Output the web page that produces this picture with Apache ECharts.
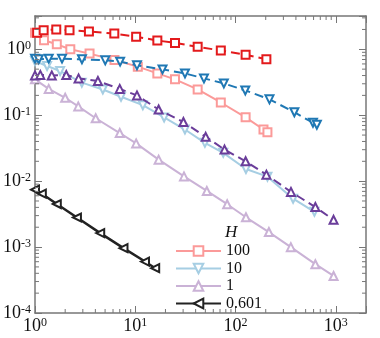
<!DOCTYPE html>
<html>
<head>
<meta charset="utf-8">
<script src="https://cdn.jsdelivr.net/npm/echarts@6/dist/echarts.min.js"></script>
<style>
  html, body { margin: 0; padding: 0; background: #fff; }
  #chart { width: 380px; height: 338px; }
</style>
</head>
<body>
<div id="chart"></div>
<script>
// H = 100, dashed (dark) and solid (light)
const h100DashX = [1.05, 1.22, 1.63, 2.21, 3.45, 6.18, 10.2, 16.6, 24.9, 41.9, 71.3, 126, 203]
const h100DashY = [1.78, 1.95, 1.99, 1.95, 1.86, 1.73, 1.55, 1.36, 1.25, 1.09, 0.96, 0.825, 0.705]
const h100X = [1.0, 1.23, 1.65, 2.25, 3.5, 6.2, 10.6, 16.6, 24.9, 41.9, 71.3, 126, 190, 208]
const h100Y = [1.78, 1.37, 1.19, 1.0, 0.86, 0.69, 0.546, 0.431, 0.35, 0.246, 0.156, 0.093, 0.0607, 0.0552]

// H = 10
const h10DashX = [1.0, 1.09, 1.37, 1.86, 2.94, 5.02, 7.06, 10.4, 18.7, 31.3, 48.4, 76.4, 125, 218, 386, 592, 647]
const h10DashY = [0.722, 0.705, 0.722, 0.722, 0.705, 0.68, 0.65, 0.571, 0.496, 0.431, 0.362, 0.304, 0.238, 0.174, 0.111, 0.0768, 0.0716]
const h10X = [1.0, 1.32, 1.78, 2.93, 4.75, 7.21, 11.9, 19.4, 31.3, 49.5, 75.4, 127, 208, 375, 612]
const h10Y = [0.664, 0.557, 0.468, 0.312, 0.246, 0.191, 0.142, 0.0924, 0.0607, 0.0381, 0.0269, 0.0153, 0.0117, 0.00542, 0.00343]

// H = 1
const h1DashX = [1.0, 1.13, 1.47, 2.05, 2.72, 4.24, 7.0, 10.4, 17.1, 30.2, 50.4, 77.7, 126, 203, 357, 625, 950]
const h1DashY = [0.402, 0.409, 0.402, 0.407, 0.362, 0.33, 0.251, 0.2, 0.122, 0.0789, 0.047, 0.0301, 0.02, 0.01256, 0.00687, 0.00405, 0.00259]
const h1X = [1.0, 1.37, 2.0, 2.7, 4.03, 7.0, 10.2, 17.1, 30.6, 51.7, 82.5, 127, 215, 356, 625, 950]
const h1Y = [0.35, 0.251, 0.184, 0.136, 0.09, 0.0537, 0.0374, 0.0212, 0.0118, 0.0071, 0.00447, 0.00283, 0.00169, 0.000998, 0.00055, 0.000365]

// H = 0.601
const h0601X = [1.0, 1.17, 1.65, 2.62, 4.47, 7.63, 12.5, 15.8]
const h0601Y = [0.00743, 0.00646, 0.0045, 0.00281, 0.00163, 0.000964, 0.000603, 0.000478]

const xMin = 1
const xMax = 2000
const yMin = 1e-4
const yMax = 3.2

const serif = 'Liberation Serif'
const axisColor = '#777'

const zip = (xs, ys) => xs.map((x, i) => [x, ys[i]])

// minor log ticks (2..9 per decade)
const xMinor = []
for (let k = 0; k <= 3; k++) for (let m = 2; m <= 9; m++) if (m * 10 ** k < xMax) xMinor.push(m * 10 ** k)
const yMinor = []
for (let k = -4; k <= 0; k++) for (let m = 2; m <= 9; m++) if (m * 10 ** k < yMax) yMinor.push(+(m * 10 ** k).toPrecision(3))

function powLabel(v) {
  const e = Math.log10(v)
  if (Math.abs(e - Math.round(e)) > 1e-6) return ''
  return '{b|10}{s|' + Math.round(e) + '}'
}

const labelRich = {
  b: { fontSize: 18, fontFamily: serif, color: '#111', verticalAlign: 'bottom' },
  s: { fontSize: 12, fontFamily: serif, color: '#111', verticalAlign: 'top' },
}

function lineSeries(name, xs, ys, color, symbol, opts = {}) {
  return {
    name,
    type: 'line',
    data: zip(xs, ys),
    symbol,
    symbolSize: opts.size || 8,
    symbolRotate: opts.rotate || 0,
    showAllSymbol: true,
    z: opts.z || 2,
    itemStyle: { color, borderColor: color, borderWidth: 1 },
    lineStyle: { color, width: opts.width || 2, type: opts.dash ? [9, 5] : 'solid' },
    emphasis: { disabled: true },
  }
}

function minorTicks(axis) {
  return {
    type: 'custom',
    silent: true,
    clip: false,
    z: 5,
    data: axis === 'x' ? xMinor.map(v => [v, 0.01]) : yMinor.map(v => [1, v]),
    renderItem(params, api) {
      const cs = params.coordSys
      const p = api.coord([api.value(0), api.value(1)])
      const style = { stroke: axisColor, lineWidth: 1 }
      const len = 4
      if (axis === 'x') {
        const b = cs.y + cs.height
        return {
          type: 'group',
          children: [
            { type: 'line', shape: { x1: p[0], y1: b, x2: p[0], y2: b - len }, style },
            { type: 'line', shape: { x1: p[0], y1: cs.y, x2: p[0], y2: cs.y + len }, style },
          ],
        }
      }
      const r = cs.x + cs.width
      return {
        type: 'group',
        children: [
          { type: 'line', shape: { x1: cs.x, y1: p[1], x2: cs.x + len, y2: p[1] }, style },
          { type: 'line', shape: { x1: r, y1: p[1], x2: r - len, y2: p[1] }, style },
        ],
      }
    },
  }
}

const baseAxis = {
  type: 'log',
  logBase: 10,
  axisLine: { show: true, lineStyle: { color: axisColor, width: 1.5 } },
  axisTick: { show: true, inside: true, length: 7, lineStyle: { color: axisColor } },
  splitLine: { show: false },
  minorTick: { show: false },
}

const chart = echarts.init(document.getElementById('chart'))
chart.setOption({
  animation: false,
  backgroundColor: '#fff',
  grid: { left: 33, right: 14, top: 16, bottom: 25, containLabel: false },
  title: {
    text: 'H',
    left: 220,
    top: 219,
    textStyle: { fontFamily: serif, fontStyle: 'italic', fontWeight: 'normal', fontSize: 17, color: '#111' },
  },
  legend: {
    orient: 'vertical',
    left: 170,
    top: 238,
    itemWidth: 45,
    itemHeight: 12,
    itemGap: 1.5,
    data: ['100', '10', '1', '0.601'],
    textStyle: { fontFamily: serif, fontSize: 16, color: '#111', lineHeight: 16 },
  },
  xAxis: [
    {
      ...baseAxis,
      position: 'bottom',
      min: xMin,
      max: xMax,
      axisLabel: { formatter: powLabel, rich: labelRich, margin: 4 },
    },
    {
      ...baseAxis,
      position: 'top',
      min: xMin,
      max: xMax,
      axisLabel: { show: false },
    },
  ],
  yAxis: [
    {
      ...baseAxis,
      position: 'left',
      min: yMin,
      max: yMax,
      axisLabel: { formatter: powLabel, rich: labelRich, margin: 4 },
    },
    {
      ...baseAxis,
      position: 'right',
      min: yMin,
      max: yMax,
      axisLabel: { show: false },
    },
  ],
  series: [
    lineSeries('100', h100X, h100Y, '#fb9a99', 'emptyRect'),
    lineSeries('10', h10X, h10Y, '#a6cee3', 'emptyTriangle', { rotate: 180 }),
    lineSeries('1', h1X, h1Y, '#cab2d6', 'emptyTriangle'),
    lineSeries('0.601', h0601X, h0601Y, '#222', 'emptyTriangle', { rotate: 90, width: 2.5 }),
    lineSeries('H100 dash', h100DashX, h100DashY, '#e31a1c', 'emptyRect', { dash: true, z: 3 }),
    lineSeries('H10 dash', h10DashX, h10DashY, '#1f78b4', 'emptyTriangle', { dash: true, rotate: 180, z: 3 }),
    lineSeries('H1 dash', h1DashX, h1DashY, '#6a3d9a', 'emptyTriangle', { dash: true, z: 3 }),
    minorTicks('x'),
    minorTicks('y'),
  ],
})
</script>
</body>
</html>
